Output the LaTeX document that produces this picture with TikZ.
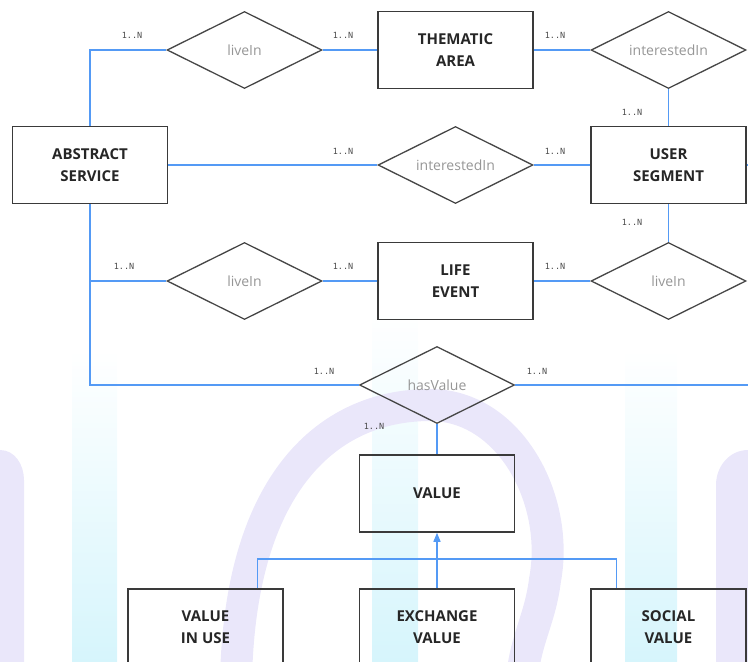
\documentclass[tikz,border=0pt]{standalone}
\usepackage{fontspec}
\setmainfont{Open Sans}
\newfontfamily\labfont{DejaVu Sans Mono}
\usetikzlibrary{shapes.geometric,arrows.meta,calc}
\definecolor{relblue}{RGB}{84,154,245}
\definecolor{boxgray}{RGB}{58,58,58}
\definecolor{dgray}{RGB}{70,70,70}
\definecolor{txtgray}{RGB}{150,150,150}
\definecolor{wmcyan}{RGB}{214,245,252}
\definecolor{wmlav}{RGB}{234,231,250}
\tikzset{
  entity/.style={draw=boxgray, line width=1.5pt, minimum width=155pt, minimum height=77pt,
    inner sep=0pt, align=center, font=\bfseries\fontsize{15}{22}\selectfont, text=black!85},
  relation/.style={draw=dgray, line width=1.3pt, diamond, aspect=2, minimum width=155pt,
    minimum height=77pt, inner sep=0pt, font=\fontsize{14}{17}\selectfont, text=txtgray},
  rel/.style={draw=relblue, line width=1.4pt},
  card/.style={font=\labfont\fontsize{8.5}{9}\selectfont, text=black!70, inner sep=0pt}
}
\begin{document}
\begin{tikzpicture}[x=1pt,y=-1pt]
\useasboundingbox (0,0) rectangle (748,662);
\clip (0,0) rectangle (748,662);
% watermark
\shade[top color=white, bottom color=wmcyan] (72,350) rectangle (117,662);
\shade[top color=white, bottom color=wmcyan] (625,350) rectangle (677,662);
\shade[top color=white, bottom color=wmcyan] (372,310) rectangle (418,662);
\fill[wmlav] (0,450) to[out=0,in=90] (24,480) -- (24,662) -- (0,662) -- cycle;
\fill[wmlav] (748,450) to[out=180,in=90] (716,485) -- (716,662) -- (748,662) -- cycle;
\draw[wmlav, line width=32pt] (236,680) .. controls (240,480) and (330,405) .. (430,405)
  .. controls (510,405) and (560,500) .. (545,580) .. controls (540,620) and (525,640) .. (522,680);
% entities
\node[entity] (as) at (90,165) {ABSTRACT\\SERVICE};
\node[entity] (ta) at (455.5,50) {THEMATIC\\AREA};
\node[entity] (us) at (668.5,165) {USER\\SEGMENT};
\node[entity] (le) at (455.5,281) {LIFE\\EVENT};
\node[entity] (val) at (437,493.5) {VALUE};
\node[entity] (viu) at (205.5,627.5) {VALUE\\IN USE};
\node[entity] (ev) at (437,627.5) {EXCHANGE\\VALUE};
\node[entity] (sv) at (668.5,627.5) {SOCIAL\\VALUE};
% relations
\node[relation] (l1) at (244.5,50) {liveIn};
\node[relation] (i1) at (668.5,50) {interestedIn};
\node[relation] (i2) at (455.5,165) {interestedIn};
\node[relation] (l2) at (244.5,281) {liveIn};
\node[relation] (l3) at (668.5,281) {liveIn};
\node[relation] (hv) at (437,385) {hasValue};
% helper coordinates
\coordinate (e1) at (748,165);
\coordinate (e2) at (748,385);
\coordinate (j1) at (as.south |- l2.west);
\coordinate (p1) at ($(viu.north east)+(-26,0)$);
\coordinate (p2) at ($(sv.north west)+(26,0)$);
\coordinate (bar) at (437,559);
% connectors
\draw[rel] (as.north) |- (l1.west);
\draw[rel] (l1.east) -- (ta.west);
\draw[rel] (ta.east) -- (i1.west);
\draw[rel] (i1.south) -- (us.north);
\draw[rel] (as.east) -- (i2.west);
\draw[rel] (i2.east) -- (us.west);
\draw[rel] (us.east) -- (e1);
\draw[rel] (us.south) -- (l3.north);
\draw[rel] (l3.west) -- (le.east);
\draw[rel] (le.west) -- (l2.east);
\draw[rel] (l2.west) -- (j1);
\draw[rel] (as.south) |- (hv.west);
\draw[rel] (hv.east) -- (e2);
\draw[rel] (hv.south) -- (val.north);
\draw[rel] (p1) |- (bar) -| (p2);
\draw[rel, -{Triangle[width=7pt,length=9pt]}] (ev.north) -- (val.south);
% cardinalities
\node[card] (c1) at (132,35) {1..N};
\node[card] (c2) at (343,35) {1..N};
\node[card] (c3) at (555,35) {1..N};
\node[card] (c4) at (632,112) {1..N};
\node[card] (c5) at (343,151) {1..N};
\node[card] (c6) at (555,151) {1..N};
\node[card] (c7) at (632,222) {1..N};
\node[card] (c8) at (124,266) {1..N};
\node[card] (c9) at (343,266) {1..N};
\node[card] (c10) at (555,266) {1..N};
\node[card] (c11) at (324,371) {1..N};
\node[card] (c12) at (537,371) {1..N};
\node[card] (c13) at (374,426) {1..N};
\end{tikzpicture}
\end{document}
